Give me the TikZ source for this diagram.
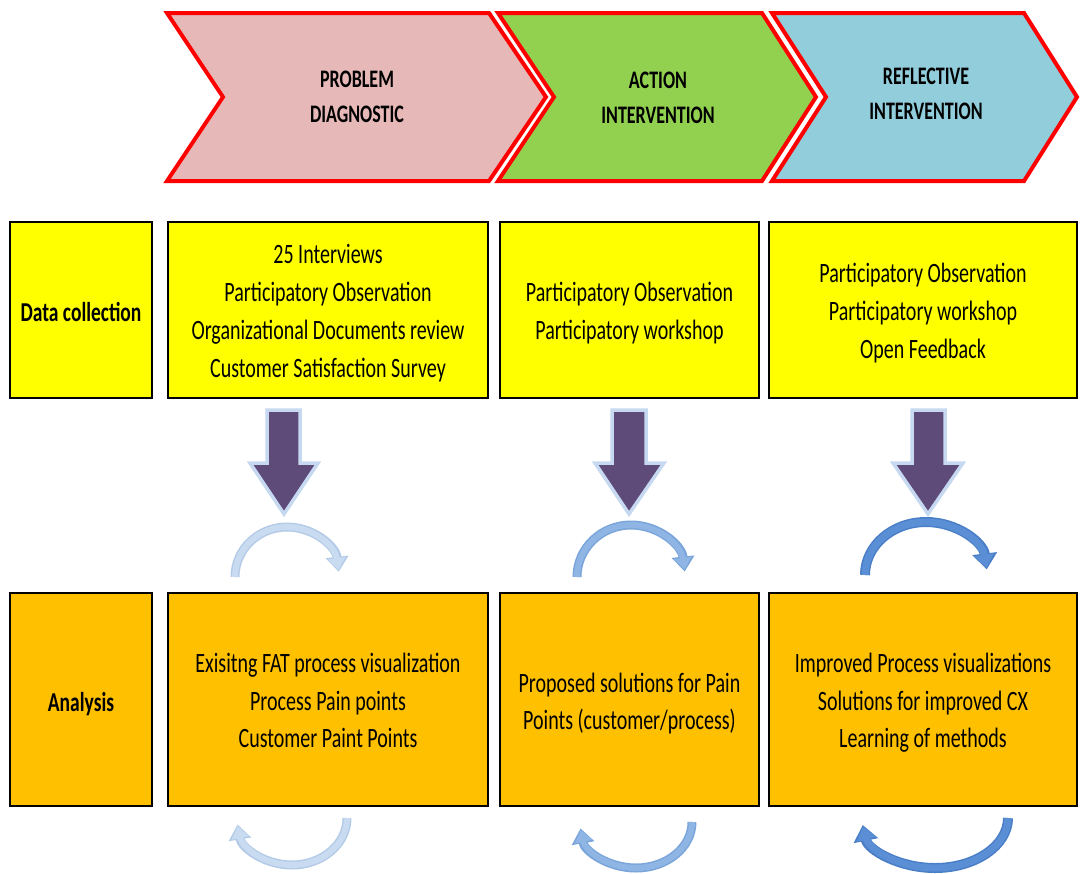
\documentclass[tikz,border=0pt]{standalone}
\usepackage{fontspec}
\setmainfont{Carlito}
\usetikzlibrary{arrows.meta}

\definecolor{chevred}{HTML}{FF0000}
\definecolor{pinkfill}{HTML}{E6B9B8}
\definecolor{greenfill}{HTML}{92D050}
\definecolor{bluefill}{HTML}{92CDDC}
\definecolor{yellowfill}{HTML}{FFFF00}
\definecolor{orangefill}{HTML}{FFC000}
\definecolor{arrowpurple}{HTML}{5F4B7A}
\definecolor{arrowrim}{HTML}{C6D9F1}
\definecolor{cycA}{HTML}{C9DBF1}
\definecolor{cycAedge}{HTML}{B4CBE8}
\definecolor{cycB}{HTML}{8EB5E3}
\definecolor{cycBedge}{HTML}{7AA5DA}
\definecolor{cycC}{HTML}{5A8FD6}
\definecolor{cycCedge}{HTML}{4A7FC8}

% tall, condensed-looking text blocks
\newcommand\bodytext[1]{\scalebox{1}[1.4]{\fontsize{20}{27}\selectfont\begin{tabular}{@{}c@{}}#1\end{tabular}}}
\newcommand\headtext[1]{\scalebox{1}[1.4]{\fontsize{18}{25}\selectfont\bfseries\begin{tabular}{@{}c@{}}#1\end{tabular}}}
\newcommand\labeltext[1]{\scalebox{1}[1.4]{\fontsize{19.5}{26}\selectfont\bfseries #1}}

\tikzset{
  chevron/.style={draw=chevred, line width=4pt, line join=miter},
  cellbox/.style={draw=black, line width=2pt, inner sep=0pt},
  ybox/.style={cellbox, fill=yellowfill, minimum height=176},
  obox/.style={cellbox, fill=orangefill, minimum height=213},
  downarrow/.style={fill=arrowpurple, draw=arrowrim, line width=3.5pt, line join=miter},
  plain/.style={inner sep=0pt}
}

\begin{document}
\begin{tikzpicture}[x=1pt, y=-1pt]
\useasboundingbox (0,0) rectangle (1081,873);

% phase chevrons
\draw[chevron, fill=pinkfill]  (167,13) -- (489,13) -- (546,97) -- (489,181) -- (167,181) -- (223,97) -- cycle;
\draw[chevron, fill=greenfill] (498,13) -- (762,13) -- (816,97) -- (762,181) -- (498,181) -- (554,97) -- cycle;
\draw[chevron, fill=bluefill]  (772,13) -- (1024,13) -- (1077,97) -- (1024,181) -- (772,181) -- (826,97) -- cycle;
\node[plain] (ph1) at (357,98) {\headtext{PROBLEM\\DIAGNOSTIC}};
\node[plain] (ph2) at (658,99) {\headtext{ACTION\\INTERVENTION}};
\node[plain] (ph3) at (926,95) {\headtext{REFLECTIVE\\INTERVENTION}};

% data collection row
\node[ybox, minimum width=142] (dclabel) at (81,310) {};
\node[ybox, minimum width=320] (dc1) at (328,310) {};
\node[ybox, minimum width=259] (dc2) at (629.5,310) {};
\node[ybox, minimum width=308] (dc3) at (923,310) {};
\node[plain] (dclabelt) at ([yshift=-2pt]dclabel.center) {\labeltext{Data collection}};
\node[plain] (dc1t) at ([yshift=-3pt]dc1.center)
  {\bodytext{25 Interviews\\Participatory Observation\\Organizational Documents review\\Customer Satisfaction Survey}};
\node[plain] (dc2t) at ([yshift=-3pt]dc2.center)
  {\bodytext{Participatory Observation\\Participatory workshop}};
\node[plain] (dc3t) at ([yshift=-3pt]dc3.center)
  {\bodytext{Participatory Observation\\Participatory workshop\\Open Feedback}};

% analysis row
\node[obox, minimum width=142] (anlabel) at (81,699.5) {};
\node[obox, minimum width=320] (an1) at (328,699.5) {};
\node[obox, minimum width=259] (an2) at (629.5,699.5) {};
\node[obox, minimum width=308] (an3) at (923,699.5) {};
\node[plain] (anlabelt) at ([yshift=-5pt]anlabel.center) {\labeltext{Analysis}};
\node[plain] (an1t) at ([yshift=-3pt]an1.center)
  {\bodytext{Exisitng FAT process visualization\\Process Pain points\\Customer Paint Points}};
\node[plain] (an2t) at ([yshift=-4pt]an2.center)
  {\bodytext{Proposed solutions for Pain\\Points (customer/process)}};
\node[plain] (an3t) at ([yshift=-3pt]an3.center)
  {\bodytext{Improved Process visualizations\\Solutions for improved CX\\Learning of methods}};

% block arrows from data collection to analysis
\draw[downarrow] (267,410) -- (300,410) -- (300,463) -- (318,463) -- (284,514) -- (250,463) -- (267,463) -- cycle;
\draw[downarrow] (612,410) -- (646,410) -- (646,463) -- (664,463) -- (629,514) -- (595,463) -- (612,463) -- cycle;
\draw[downarrow] (912,410) -- (945,410) -- (945,463) -- (963,463) -- (928,514) -- (893,463) -- (912,463) -- cycle;

% cycle arrows above the analysis row
\draw[cycAedge, line width=9pt, -{Triangle[length=15pt,width=22pt]}] (235,577) arc[start angle=180, end angle=354, x radius=52, y radius=50];
\draw[cycA, line width=6pt, -{Triangle[length=12pt,width=17pt]}] (235,577) arc[start angle=180, end angle=352, x radius=52, y radius=50];
\draw[cycBedge, line width=9pt, -{Triangle[length=15pt,width=22pt]}] (577,577) arc[start angle=180, end angle=354, x radius=54, y radius=52];
\draw[cycB, line width=6pt, -{Triangle[length=12pt,width=17pt]}] (577,577) arc[start angle=180, end angle=352, x radius=54, y radius=52];
\draw[cycCedge, line width=10pt, -{Triangle[length=16pt,width=24pt]}] (865,575) arc[start angle=180, end angle=354, x radius=61, y radius=53];
\draw[cycC, line width=7pt, -{Triangle[length=13pt,width=19pt]}] (865,575) arc[start angle=180, end angle=352, x radius=61, y radius=53];

% cycle arrows below the analysis row
\draw[cycAedge, line width=9pt, -{Triangle[length=15pt,width=22pt]}] (347,818) arc[start angle=0, end angle=172, x radius=55, y radius=47];
\draw[cycA, line width=6pt, -{Triangle[length=12pt,width=17pt]}] (347,818) arc[start angle=0, end angle=170, x radius=55, y radius=47];
\draw[cycBedge, line width=9pt, -{Triangle[length=15pt,width=22pt]}] (692,822) arc[start angle=0, end angle=172, x radius=56, y radius=46];
\draw[cycB, line width=6pt, -{Triangle[length=12pt,width=17pt]}] (692,822) arc[start angle=0, end angle=170, x radius=56, y radius=46];
\draw[cycCedge, line width=10pt, -{Triangle[length=16pt,width=24pt]}] (1008,818) arc[start angle=0, end angle=172, x radius=73, y radius=50];
\draw[cycC, line width=7pt, -{Triangle[length=13pt,width=19pt]}] (1008,818) arc[start angle=0, end angle=170, x radius=73, y radius=50];
\end{tikzpicture}
\end{document}
